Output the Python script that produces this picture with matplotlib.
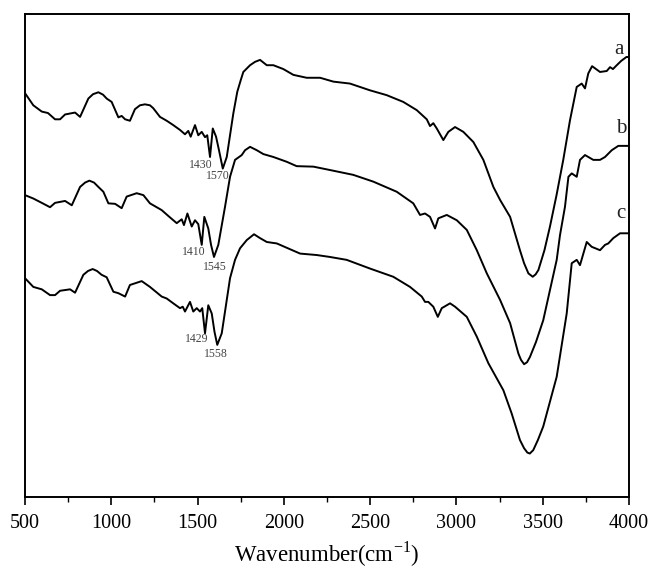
import matplotlib
matplotlib.use("Agg")
import matplotlib.pyplot as plt
from matplotlib.ticker import MultipleLocator

plt.rcParams["font.family"] = ["Liberation Serif", "DejaVu Serif"]
plt.rcParams["mathtext.fontset"] = "custom"
plt.rcParams["mathtext.rm"] = "Liberation Serif"

# FTIR spectra (wavenumber in cm^-1, transmittance in arbitrary offset units)
wn_a = [500, 548, 597, 633, 674, 703, 732, 790, 819, 867, 894, 925, 952, 973, 1002, 1041,
        1060, 1080, 1108, 1137, 1166, 1195, 1224, 1243, 1282, 1321, 1359, 1398, 1427, 1446,
        1460, 1485, 1504, 1524, 1543, 1556, 1572, 1588, 1607, 1624, 1646, 1669, 1707, 1730,
        1750, 1765, 1804, 1833, 1862, 1901, 1939, 1997, 2055, 2132, 2210, 2287, 2383, 2499,
        2596, 2692, 2770, 2828, 2847, 2866, 2886, 2924, 2953, 2992, 3040, 3098, 3156,
        3214, 3253, 3311, 3368, 3392, 3417, 3442, 3459, 3475, 3510, 3542, 3580, 3619,
        3658, 3697, 3726, 3745, 3764, 3786, 3832, 3871, 3890, 3907, 3929, 3955, 3985, 4000]
t_a = [83.6, 81.1, 79.8, 79.5, 78.2, 78.2, 79.2, 79.6, 78.7, 82.5, 83.4, 83.8, 83.3, 82.5,
       81.8, 78.6, 78.9, 78.2, 77.9, 80.3, 81.1, 81.3, 81.1, 80.5, 78.7, 77.9, 77.0, 76.0,
       75.1, 75.8, 74.6, 77.0, 74.9, 75.6, 74.5, 74.9, 70.4, 76.3, 74.6, 71.8, 68.0, 70.4,
       79.4, 83.9, 86.3, 88.0, 89.4, 90.1, 90.5, 89.4, 89.4, 88.6, 87.4, 86.8, 86.8, 86.0,
       85.6, 84.2, 83.2, 81.8, 80.1, 78.2, 76.8, 77.4, 76.3, 73.9, 75.6, 76.6, 75.6, 73.5,
       69.8, 64.2, 61.5, 58.0, 51.1, 48.4, 46.3, 45.6, 46.1, 47.0, 51.1, 56.0, 62.5, 69.8,
       78.0, 84.9, 85.6, 84.6, 87.7, 89.2, 88.0, 88.2, 89.0, 88.6, 89.4, 90.3, 91.1, 91.1]

wn_b = [500, 548, 597, 645, 674, 732, 771, 819, 848, 873, 900, 925, 954, 983, 1022, 1060,
        1089, 1147, 1186, 1224, 1292, 1330, 1379, 1408, 1421, 1441, 1466, 1485, 1504, 1524,
        1539, 1562, 1578, 1595, 1620, 1659, 1688, 1717, 1756, 1775, 1804, 1843, 1881,
        1939, 2017, 2074, 2171, 2267, 2402, 2518, 2654, 2750, 2789, 2818, 2847, 2876,
        2895, 2944, 3002, 3060, 3118, 3176, 3253, 3311, 3359, 3374, 3392, 3409, 3426,
        3461, 3503, 3581, 3600, 3629, 3649, 3668, 3697, 3716, 3745, 3793, 3832, 3861,
        3900, 3938, 4000]
t_b = [62.5, 61.8, 60.9, 60.0, 60.9, 61.3, 60.4, 64.2, 65.1, 65.5, 65.1, 64.2, 63.2, 60.8,
       60.7, 59.8, 62.2, 62.9, 62.5, 60.8, 59.4, 58.2, 56.7, 57.5, 56.3, 58.7, 56.0, 57.3,
       56.5, 52.2, 58.0, 55.6, 52.2, 49.7, 52.2, 60.1, 66.3, 69.8, 70.8, 71.8, 72.5, 71.8,
       71.0, 70.4, 69.4, 68.5, 68.4, 67.7, 66.7, 65.3, 63.2, 60.8, 58.4, 58.7, 58.0, 55.6,
       57.7, 58.4, 57.3, 55.3, 51.1, 46.3, 40.8, 36.0, 29.7, 28.4, 27.5, 27.9, 29.0, 32.1,
       36.6, 49.1, 54.2, 60.1, 66.3, 67.0, 66.3, 69.8, 70.8, 69.8, 69.8, 70.4, 71.8, 72.7,
       72.7]

wn_c = [500, 548, 597, 645, 674, 703, 761, 790, 838, 865, 892, 917, 944, 973, 1012, 1041,
        1080, 1108, 1176, 1224, 1292, 1321, 1359, 1398, 1414, 1427, 1456, 1475, 1495, 1514,
        1527, 1543, 1562, 1582, 1598, 1614, 1640, 1688, 1717, 1746, 1785, 1827, 1862,
        1901, 1959, 2036, 2094, 2190, 2267, 2364, 2499, 2634, 2731, 2799, 2818, 2837,
        2866, 2892, 2915, 2963, 2992, 3060, 3118, 3185, 3272, 3320, 3368, 3392, 3411,
        3425, 3445, 3472, 3503, 3581, 3639, 3668, 3697, 3716, 3755, 3784, 3832, 3861,
        3880, 3909, 3948, 4000]
t_c = [45.3, 43.5, 43.0, 41.8, 41.8, 42.7, 43.0, 42.3, 46.0, 46.8, 47.2, 46.8, 46.0, 45.5,
       42.5, 42.2, 41.5, 43.9, 44.7, 43.5, 41.5, 41.1, 40.1, 39.1, 39.4, 38.4, 40.4, 38.4,
       39.1, 38.4, 39.1, 33.9, 39.7, 38.0, 34.2, 31.5, 33.9, 45.3, 49.1, 51.5, 53.2, 54.4,
       53.6, 52.8, 52.5, 51.3, 50.4, 50.1, 49.7, 49.1, 47.3, 45.6, 43.5, 41.5, 40.4, 40.4,
       39.4, 37.3, 39.1, 40.1, 39.4, 37.3, 33.2, 27.7, 22.1, 17.3, 11.8, 10.1, 9.2, 9.0,
       9.7, 11.8, 14.6, 24.9, 38.0, 48.4, 49.1, 48.0, 52.8, 51.8, 51.1, 52.2, 52.5, 53.6,
       54.6, 54.6]

series = [(wn_a, t_a), (wn_b, t_b), (wn_c, t_c)]
curve_names = ["a", "b", "c"]
name_pos = [(3942, 92.7), (3954, 76.2), (3954, 58.8)]

# Band annotations: text and position
band_labels = ["1430", "1570", "1410", "1545", "1429", "1558"]
band_x = [1520, 1618, 1479, 1601, 1497, 1607]
band_y = [68.7, 66.4, 50.7, 47.6, 32.7, 29.6]

fig = plt.figure(figsize=(6.5, 5.72), dpi=100)
ax = fig.add_axes([0.0385, 0.1311, 0.9292, 0.8444])

for (x, y) in series:
    ax.plot(x, y, color="black", lw=1.4, solid_joinstyle="round")

for name, (x, y) in zip(curve_names, name_pos):
    ax.text(x, y, name, fontsize=15, ha="center", va="center", color="#222222")

for s, x, y in zip(band_labels, band_x, band_y):
    ax.text(x, y, s, fontsize=8.5, ha="center", va="center", color="#444444")

ax.set_xlim(500, 4000)
ax.set_ylim(0, 100)
ax.xaxis.set_major_locator(MultipleLocator(500))
ax.xaxis.set_minor_locator(MultipleLocator(250))
ax.tick_params(axis="x", which="major", direction="out", length=6, width=1.2,
               labelsize=14.5, pad=6)
ax.tick_params(axis="x", which="minor", direction="out", length=3.5, width=1.0)
ax.set_yticks([])
for sp in ax.spines.values():
    sp.set_linewidth(1.4)

ax.set_xlabel(r"Wavenumber(cm$^{-1}$)", fontsize=16.5, labelpad=5)

fig.savefig("out.png", dpi=100)
